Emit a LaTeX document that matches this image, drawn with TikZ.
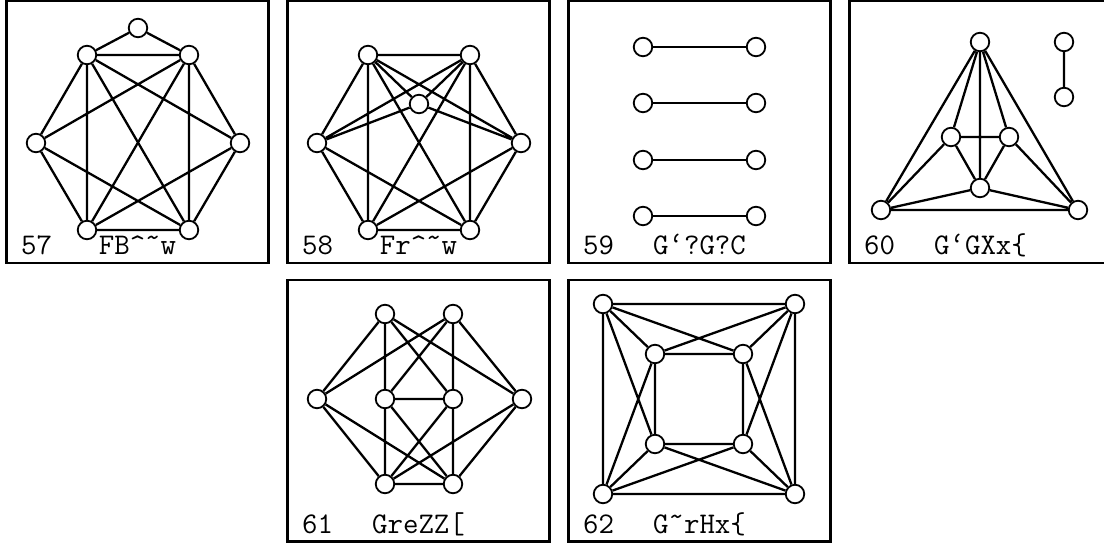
\documentclass[tikz,border=0pt]{standalone}
\begin{document}
\begin{tikzpicture}[x=1pt,y=-1pt,
  vtx/.style={circle, draw, fill=white, line width=1.8pt, minimum size=18.5pt, inner sep=0pt},
  gedge/.style={line width=2.3pt},
  panel/.style={draw, line width=2.2pt},
  lbl/.style={font=\fontsize{30}{30}\selectfont\ttfamily, inner sep=0pt}]
\useasboundingbox (0,0) rectangle (1104,543);
\clip (0,0) rectangle (1104,543);
% panels
\draw[panel] (6.5,1) rectangle (268.5,263);
\draw[panel] (287.5,1) rectangle (549.5,263);
\draw[panel] (568.5,1) rectangle (830.5,263);
\draw[panel] (849.5,1) rectangle (1111.5,263);
\draw[panel] (287.5,280) rectangle (549.5,541.5);
\draw[panel] (568.5,280) rectangle (830.5,541.5);
% labels
\node[lbl, anchor=base west] (n57) at (21,254) {57};
\node[lbl, anchor=base] (g57) at (137.5,254) {FB\char`\^\char"02DC w};
\node[lbl, anchor=base west] (n58) at (302,254) {58};
\node[lbl, anchor=base] (g58) at (418.5,254) {Fr\char`\^\char"02DC w};
\node[lbl, anchor=base west] (n59) at (583,254) {59};
\node[lbl, anchor=base] (g59) at (699.5,254) {G\textquoteleft?G?C};
\node[lbl, anchor=base west] (n60) at (864,254) {60};
\node[lbl, anchor=base] (g60) at (980.5,254) {G\textquoteleft GXx\{};
\node[lbl, anchor=base west] (n61) at (302,533) {61};
\node[lbl, anchor=base] (g61) at (418.5,533) {GreZZ[};
\node[lbl, anchor=base west] (n62) at (583,533) {62};
\node[lbl, anchor=base] (g62) at (699.5,533) {G\char"02DC rHx\{};
% panel 57
\node[vtx] (a1) at (138,28) {};
\node[vtx] (a2) at (87,55) {};
\node[vtx] (a3) at (189,55) {};
\node[vtx] (a4) at (36,143) {};
\node[vtx] (a5) at (240,143) {};
\node[vtx] (a6) at (87,230) {};
\node[vtx] (a7) at (189,230) {};
\draw[gedge] (a1)--(a2) (a1)--(a3) (a2)--(a3) (a2)--(a4) (a2)--(a6) (a2)--(a7) (a2)--(a5)
  (a3)--(a4) (a3)--(a6) (a3)--(a7) (a3)--(a5) (a4)--(a6) (a4)--(a7) (a5)--(a6) (a5)--(a7) (a6)--(a7);
% panel 58
\node[vtx] (b1) at (368,55) {};
\node[vtx] (b2) at (470,55) {};
\node[vtx] (b3) at (419,104) {};
\node[vtx] (b4) at (317,143) {};
\node[vtx] (b5) at (521,143) {};
\node[vtx] (b6) at (368,230) {};
\node[vtx] (b7) at (470,230) {};
\draw[gedge] (b1)--(b2) (b1)--(b4) (b1)--(b6) (b1)--(b3) (b1)--(b5) (b1)--(b7)
  (b2)--(b5) (b2)--(b7) (b2)--(b3) (b2)--(b4) (b2)--(b6) (b3)--(b4) (b3)--(b5)
  (b4)--(b6) (b4)--(b7) (b5)--(b6) (b5)--(b7) (b6)--(b7);
% panel 59
\node[vtx] (c1) at (643,47) {};
\node[vtx] (c2) at (756,47) {};
\node[vtx] (c3) at (643,103) {};
\node[vtx] (c4) at (756,103) {};
\node[vtx] (c5) at (643,160) {};
\node[vtx] (c6) at (756,160) {};
\node[vtx] (c7) at (643,216) {};
\node[vtx] (c8) at (756,216) {};
\draw[gedge] (c1)--(c2) (c3)--(c4) (c5)--(c6) (c7)--(c8);
% panel 60
\node[vtx] (d1) at (980,42) {};
\node[vtx] (d2) at (951,137) {};
\node[vtx] (d3) at (1009,137) {};
\node[vtx] (d4) at (980,188) {};
\node[vtx] (d5) at (881,210) {};
\node[vtx] (d6) at (1078,210) {};
\node[vtx] (d7) at (1064,42) {};
\node[vtx] (d8) at (1064,97) {};
\draw[gedge] (d1)--(d5) (d1)--(d6) (d1)--(d2) (d1)--(d3) (d1)--(d4) (d2)--(d3) (d2)--(d5)
  (d2)--(d4) (d3)--(d6) (d3)--(d4) (d4)--(d5) (d4)--(d6) (d5)--(d6) (d7)--(d8);
% panel 61
\node[vtx] (e1) at (385,314) {};
\node[vtx] (e2) at (453,314) {};
\node[vtx] (e3) at (317,399) {};
\node[vtx] (e4) at (385,399) {};
\node[vtx] (e5) at (453,399) {};
\node[vtx] (e6) at (522,399) {};
\node[vtx] (e7) at (385,484) {};
\node[vtx] (e8) at (453,484) {};
\draw[gedge] (e1)--(e3) (e1)--(e4) (e1)--(e5) (e1)--(e6) (e2)--(e3) (e2)--(e4) (e2)--(e5)
  (e2)--(e6) (e3)--(e7) (e3)--(e8) (e6)--(e7) (e6)--(e8) (e4)--(e5) (e4)--(e7) (e4)--(e8)
  (e5)--(e7) (e5)--(e8) (e7)--(e8);
% panel 62
\node[vtx] (f1) at (603,304) {};
\node[vtx] (f2) at (795,304) {};
\node[vtx] (f3) at (655,354) {};
\node[vtx] (f4) at (743,354) {};
\node[vtx] (f5) at (655,444) {};
\node[vtx] (f6) at (743,444) {};
\node[vtx] (f7) at (603,494) {};
\node[vtx] (f8) at (795,494) {};
\draw[gedge] (f1)--(f2) (f2)--(f8) (f8)--(f7) (f7)--(f1) (f3)--(f4) (f4)--(f6) (f6)--(f5)
  (f5)--(f3) (f1)--(f3) (f1)--(f4) (f1)--(f5) (f2)--(f4) (f2)--(f3) (f2)--(f6)
  (f7)--(f5) (f7)--(f3) (f7)--(f6) (f8)--(f6) (f8)--(f4) (f8)--(f5);
\end{tikzpicture}
\end{document}
